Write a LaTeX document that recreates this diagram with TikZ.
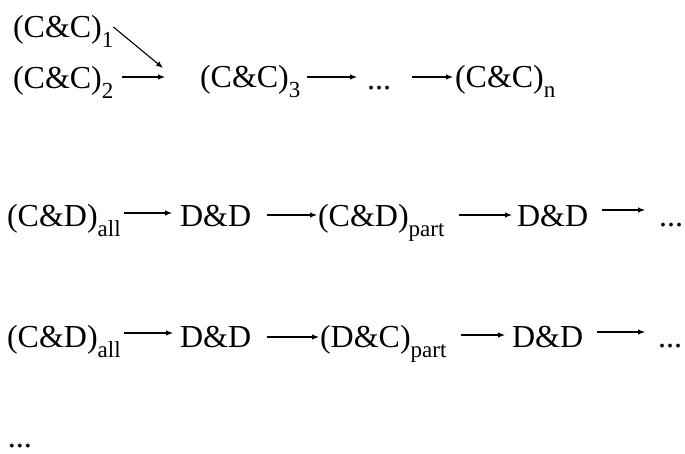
\documentclass[tikz,border=0pt]{standalone}
\usepackage{fontspec}
\setmainfont{Liberation Serif}
\usetikzlibrary{arrows.meta}
% lowered subscript set in a smaller size
\newcommand\lsub[1]{\raisebox{-10pt}{\fontsize{23}{23}\selectfont #1}}
\begin{document}
\begin{tikzpicture}[x=1pt,y=1pt,
  lbl/.style={anchor=base west, inner sep=0pt, outer sep=0pt,
              font=\fontsize{32}{38}\selectfont},
  arr/.style={-{Latex[length=7pt,width=5.5pt]}, line width=1.1pt}]
\useasboundingbox (0,0) rectangle (685,453);

% first chain: two inputs merging, then a sequence
\node[lbl] (c1) at (13,415) {(C\&C)\lsub{1}};
\node[lbl] (c2) at (13,364) {(C\&C)\lsub{2}};
\coordinate (m1) at (163,385);
\coordinate (m2) at (165,376);
\node[lbl] (c3) at (200,365) {(C\&C)\lsub{3}};
\node[lbl] (d1) at (367,363) {...};
\node[lbl] (cn) at (455,365) {(C\&C)\lsub{n}};

\draw[arr] ([shift={(0,11)}]c1.base east) -- (m1);
\draw[arr] ([shift={(9,12)}]c2.base east) -- (m2);
\draw[arr] ([shift={(7,11)}]c3.base east) -- ([shift={(-10,11)}]d1.base west |- c3.base);
\draw[arr] ([shift={(21,13)}]d1.base east) -- ([shift={(-2,11)}]cn.base west);

% second chain
\node[lbl] (ca2) at (7,226) {(C\&D)\lsub{all}};
\node[lbl] (dd2a) at (180,226) {D\&D};
\node[lbl] (cp) at (318,226) {(C\&D)\lsub{part}};
\node[lbl] (dd2b) at (517,226) {D\&D};
\node[lbl] (e2) at (659,226) {...};

\draw[arr] ([shift={(3,14)}]ca2.base east) -- ([shift={(-8,14)}]dd2a.base west);
\draw[arr] ([shift={(16,12)}]dd2a.base east) -- ([shift={(-1,12)}]cp.base west);
\draw[arr] ([shift={(15,12)}]cp.base east) -- ([shift={(-5,12)}]dd2b.base west);
\draw[arr] ([shift={(14,17)}]dd2b.base east) -- ([shift={(-14,17)}]e2.base west);

% third chain
\node[lbl] (ca3) at (7,106) {(C\&D)\lsub{all}};
\node[lbl] (dd3a) at (180,106) {D\&D};
\node[lbl] (dp) at (320,106) {(D\&C)\lsub{part}};
\node[lbl] (dd3b) at (512,106) {D\&D};
\node[lbl] (e3) at (658,106) {...};

\draw[arr] ([shift={(3,14)}]ca3.base east) -- ([shift={(-7,14)}]dd3a.base west);
\draw[arr] ([shift={(16,10)}]dd3a.base east) -- ([shift={(-1,10)}]dp.base west);
\draw[arr] ([shift={(15,12)}]dp.base east) -- ([shift={(-7,12)}]dd3b.base west);
\draw[arr] ([shift={(14,15)}]dd3b.base east) -- ([shift={(-13,15)}]e3.base west);

% further chains omitted
\node[lbl] (e4) at (8,6) {...};
\end{tikzpicture}
\end{document}
